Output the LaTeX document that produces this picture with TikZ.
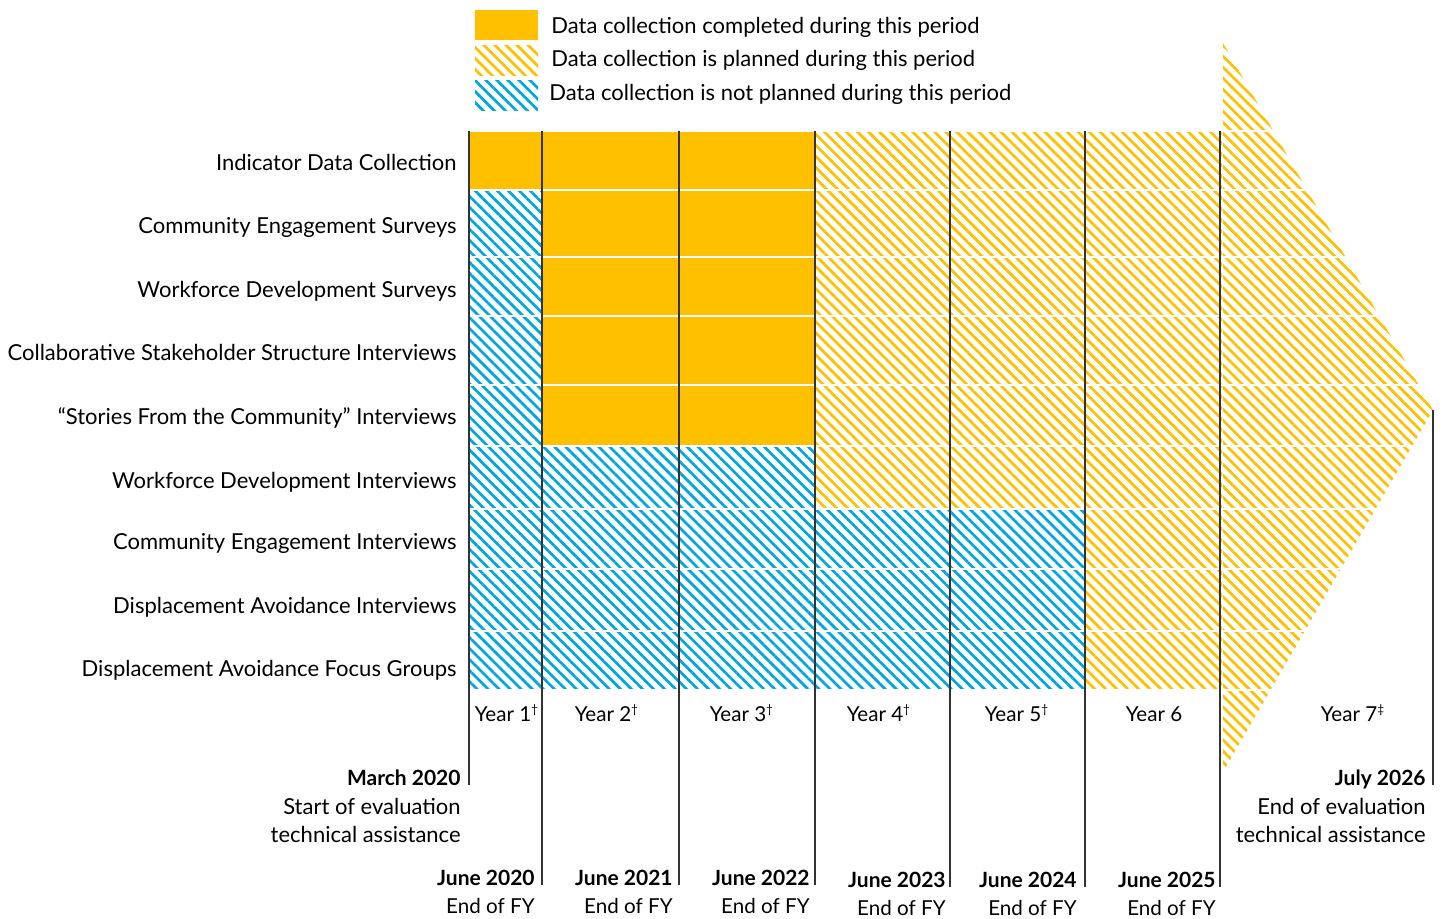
\documentclass[tikz,border=0pt]{standalone}
\usepackage{fontspec}
\setmainfont{Lato}
\usetikzlibrary{patterns.meta}
\definecolor{donegold}{HTML}{FFC000}
\definecolor{skipblue}{HTML}{00A6E2}
\newcommand{\yrmark}[1]{\textsuperscript{\fontsize{6}{6}\selectfont #1}}

\begin{document}
\begin{tikzpicture}[x=0.5pt, y=-0.5pt,
  every node/.style={inner sep=0pt, font=\fontsize{11}{14.5}\selectfont},
  datebold/.style={font=\fontsize{10.5}{14.5}\selectfont\bfseries},
  yeartext/.style={font=\fontsize{10.3}{14.5}\selectfont},
  done/.style={fill=donegold},
  plan/.style={pattern={Lines[angle=-45,distance=3.9pt,line width=1.35pt]}, pattern color=donegold},
  skip/.style={pattern={Lines[angle=-45,distance=3.9pt,line width=1.35pt]}, pattern color=skipblue},
  yearline/.style={draw=black!80, line width=0.6pt}]
  \useasboundingbox (0,0) rectangle (1444,918);

  \path [done] (475,10) rectangle (538,40);
  \path [plan] (475,45) rectangle (538,75);
  \path [skip] (475,80) rectangle (538,110);
  \node [anchor=base west] (lgdone) at (551,33) {Data collection completed during this period};
  \node [anchor=base west] (lgplan) at (551,66) {Data collection is planned during this period};
  \node [anchor=base west] (lgskip) at (549,100) {Data collection is not planned during this period};

  \path [done] (469,131) rectangle (815,190);
  \path [done] (542,190) rectangle (815,446);
  \path [skip] (469,190) rectangle (542,446);
  \path [skip] (469,446) rectangle (815,509);
  \path [skip] (469,509) rectangle (1085,690);
  \path [plan] (815,131) rectangle (1222,509);
  \path [plan] (1085,509) rectangle (1222,690);
  \path [plan] (1223,43) -- (1433,410) -- (1223,772) -- cycle;
  \foreach \y in {131,190,257,316,385,446,509,569,631,690}
    \draw [white, line width=0.8pt] (469,\y) -- (1433,\y);

  \foreach \y/\txt [count=\i] in {170/Indicator Data Collection,
      233/Community Engagement Surveys, 297/Workforce Development Surveys,
      360/Collaborative Stakeholder Structure Interviews,
      424/“Stories From the Community” Interviews,
      488/Workforce Development Interviews, 549/Community Engagement Interviews,
      613/Displacement Avoidance Interviews, 676/Displacement Avoidance Focus Groups}
    \node [anchor=base east] (row\i) at (457,\y) {\txt};

  \foreach \x/\txt [count=\i] in {507/1\yrmark{†}, 607/2\yrmark{†},
      742/3\yrmark{†}, 879/4\yrmark{†}, 1017/5\yrmark{†},
      1154/6, 1353/7\yrmark{‡}}
    \node [yeartext, anchor=base] (year\i) at (\x,721) {Year \txt};

  \foreach \x/\r/\yr/\b [count=\i] in {542/535/2020/885, 679/673/2021/885,
      815/810/2022/885, 950/946/2023/887, 1085/1077/2024/887, 1220/1216/2025/887} {
    \node [datebold, anchor=base east] (june\i) at (\r,\b) {June \yr};
    \node [yeartext, anchor=base east] (fy\i) at (\r,\b+28) {End of FY};
    \coordinate (top\i) at (\x,131);
    \draw [yearline] (top\i) -- (top\i |- june\i.base);
  }

  \node [datebold, anchor=base east] (start) at (461,785) {March 2020};
  \node [anchor=base east] (startnote) at (461,814) {Start of evaluation};
  \node [anchor=base east] (startnote2) at (461,842) {technical assistance};
  \coordinate (gridtop) at (469,131);
  \draw [yearline] (gridtop) -- (gridtop |- start.base);

  \node [datebold, anchor=base east] (finish) at (1426,785) {July 2026};
  \node [anchor=base east] (finishnote) at (1426,814) {End of evaluation};
  \node [anchor=base east] (finishnote2) at (1426,842) {technical assistance};
  \coordinate (tip) at (1433,410);
  \draw [yearline] (tip) -- (tip |- finish.base);
\end{tikzpicture}
\end{document}
